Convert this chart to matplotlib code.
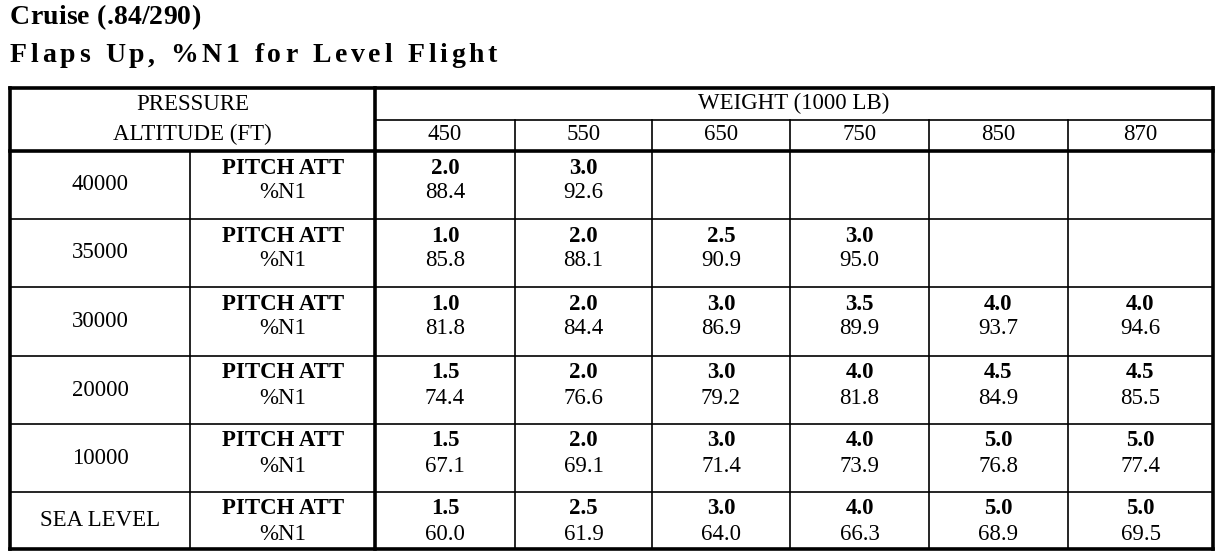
import matplotlib
matplotlib.use("Agg")
import matplotlib.pyplot as plt

title1 = "Cruise (.84/290)"
title2 = "Flaps Up, %N1 for Level Flight"
weights = ["450", "550", "650", "750", "850", "870"]
altitudes = ["40000", "35000", "30000", "20000", "10000", "SEA LEVEL"]
pitch = [
    ["2.0", "3.0", "", "", "", ""],
    ["1.0", "2.0", "2.5", "3.0", "", ""],
    ["1.0", "2.0", "3.0", "3.5", "4.0", "4.0"],
    ["1.5", "2.0", "3.0", "4.0", "4.5", "4.5"],
    ["1.5", "2.0", "3.0", "4.0", "5.0", "5.0"],
    ["1.5", "2.5", "3.0", "4.0", "5.0", "5.0"],
]
n1 = [
    ["88.4", "92.6", "", "", "", ""],
    ["85.8", "88.1", "90.9", "95.0", "", ""],
    ["81.8", "84.4", "86.9", "89.9", "93.7", "94.6"],
    ["74.4", "76.6", "79.2", "81.8", "84.9", "85.5"],
    ["67.1", "69.1", "71.4", "73.9", "76.8", "77.4"],
    ["60.0", "61.9", "64.0", "66.3", "68.9", "69.5"],
]

W, H = 1220, 559
fig = plt.figure(figsize=(W / 100, H / 100), dpi=100)
ax = fig.add_axes([0, 0, 1, 1])
ax.set_xlim(0, W); ax.set_ylim(H, 0); ax.axis("off")
F = "Liberation Serif"
fs = 16.5
renderer = fig.canvas.get_renderer()

def spaced(x, y, s, target_w, **kw):
    # draw text char by char with uniform extra spacing to reach target width
    widths = []
    for ch in s:
        t = ax.text(0, 0, ch if ch != " " else "n", **kw)
        w = t.get_window_extent(renderer).width
        if ch == " ":
            w *= 0.5
        widths.append(w)
        t.remove()
    extra = (target_w - sum(widths)) / max(len(s) - 1, 1)
    cx = x
    for ch, w in zip(s, widths):
        ax.text(cx, y, ch, va="center", ha="left", **kw)
        cx += w + extra

tk = dict(fontfamily=F, fontweight="bold", fontsize=20)
spaced(10, 18, title1, 190, **tk)
spaced(10, 56, title2, 487, **tk)

L, R, T, B = 10, 1213, 88, 549
xa, xb = 190, 375
xs = [375, 515, 652, 790, 929, 1068, 1213]
ys = [151, 219, 287, 356, 424, 492, 549]
lw_thick, lw = 2.6, 1.2

def line(x0, y0, x1, y1, w):
    ax.plot([x0, x1], [y0, y1], color="black", lw=w, solid_capstyle="projecting")

line(xb, 120, R, 120, lw)
for x in xs[1:-1]:
    line(x, 120, x, 151, lw)
ax.text((L + xb) / 2, 104, "PRESSURE", fontfamily=F, fontsize=fs, ha="center", va="center")
ax.text((L + xb) / 2, 134, "ALTITUDE (FT)", fontfamily=F, fontsize=fs, ha="center", va="center")
ax.text((xb + R) / 2, 103, "WEIGHT (1000 LB)", fontfamily=F, fontsize=fs, ha="center", va="center")
for i, w in enumerate(weights):
    ax.text((xs[i] + xs[i + 1]) / 2, 135, w, fontfamily=F, fontsize=fs, ha="center", va="center")

line(xa, 151, xa, B, lw)
for x in xs[1:-1]:
    line(x, 151, x, B, lw)
for y in ys[1:-1]:
    line(L, y, R, y, lw)
for r, alt in enumerate(altitudes):
    y0, y1 = ys[r], ys[r + 1]
    yp = y0 + 17
    yn = y0 + 42
    ax.text((L + xa) / 2, (y0 + y1) / 2, alt, fontfamily=F, fontsize=fs, ha="center", va="center")
    ax.text(283, yp, "PITCH ATT", fontfamily=F, fontweight="bold", fontsize=fs, ha="center", va="center")
    ax.text(283, yn, "%N1", fontfamily=F, fontsize=fs, ha="center", va="center")
    for c in range(6):
        xc = (xs[c] + xs[c + 1]) / 2
        ax.text(xc, yp, pitch[r][c], fontfamily=F, fontweight="bold", fontsize=fs, ha="center", va="center")
        ax.text(xc, yn, n1[r][c], fontfamily=F, fontsize=fs, ha="center", va="center")

line(L, T, R, T, lw_thick); line(L, B, R, B, lw_thick)
line(L, T, L, B, lw_thick); line(R, T, R, B, lw_thick)
line(L, 151, R, 151, lw_thick)
line(xb, T, xb, B, lw_thick)

fig.savefig("out.png", dpi=100)
